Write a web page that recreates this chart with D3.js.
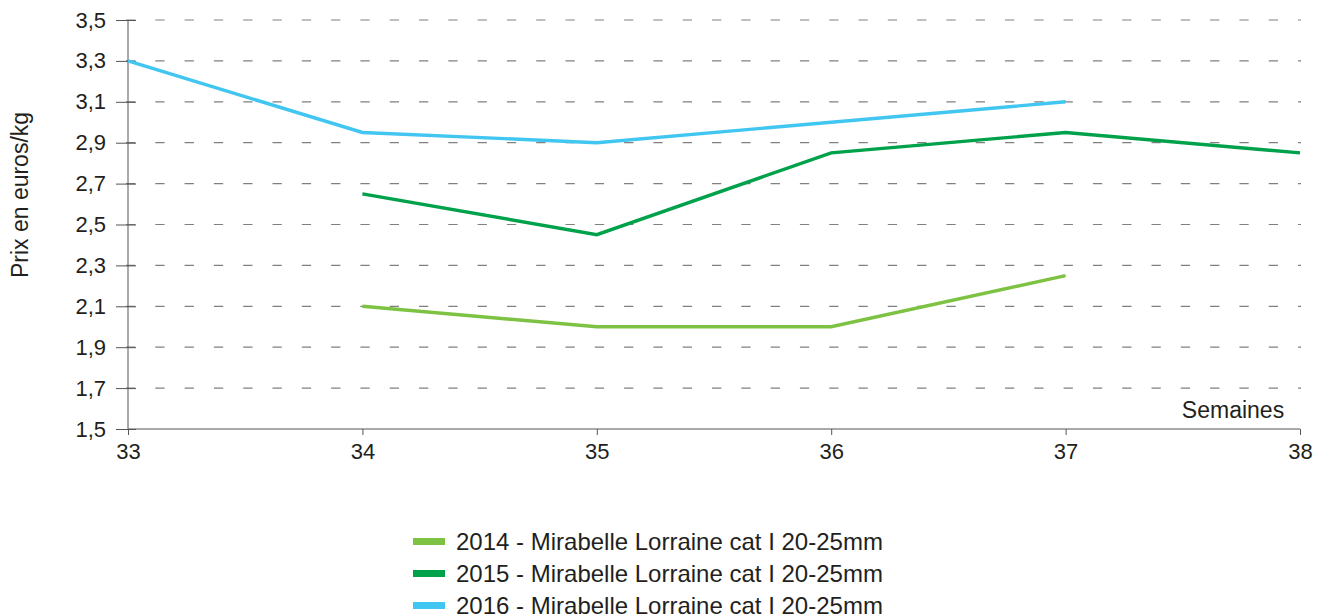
<!DOCTYPE html>
<html>
<head>
<meta charset="utf-8">
<script src="https://cdn.jsdelivr.net/npm/d3@7"></script>
<style>
  body { margin: 0; background: #fff; }
  svg { font-family: "Liberation Sans", Arial, sans-serif; }
</style>
</head>
<body>
<div id="chart"></div>
<script>
// weeks on the x axis
var weeks = [33, 34, 35, 36, 37, 38];
var yTicks = [1.5, 1.7, 1.9, 2.1, 2.3, 2.5, 2.7, 2.9, 3.1, 3.3, 3.5];

// prices, euros/kg
var weeks2014 = [34, 35, 36, 37];
var prices2014 = [2.1, 2.0, 2.0, 2.25];
var weeks2015 = [34, 35, 36, 37, 38];
var prices2015 = [2.65, 2.45, 2.85, 2.95, 2.85];
var weeks2016 = [33, 34, 35, 36, 37];
var prices2016 = [3.3, 2.95, 2.9, 3.0, 3.1];

var seriesNames = [
  "2014 - Mirabelle Lorraine cat I 20-25mm",
  "2015 - Mirabelle Lorraine cat I 20-25mm",
  "2016 - Mirabelle Lorraine cat I 20-25mm"
];
var seriesColors = ["#7dc242", "#00a14b", "#41c6f2"];

var series = [
  { name: seriesNames[0], color: seriesColors[0], pts: weeks2014.map((w, i) => ({ w: w, v: prices2014[i] })) },
  { name: seriesNames[1], color: seriesColors[1], pts: weeks2015.map((w, i) => ({ w: w, v: prices2015[i] })) },
  { name: seriesNames[2], color: seriesColors[2], pts: weeks2016.map((w, i) => ({ w: w, v: prices2016[i] })) }
];

var width = 1328, height = 616;
var plotLeft = 128, plotRight = 1300, plotTop = 20, plotBottom = 429;
var textColor = "#231f20", axisColor = "#555";

var svg = d3.select("#chart").append("svg")
  .attr("width", width)
  .attr("height", height);

var x = d3.scaleLinear().domain([33, 38]).range([plotLeft, plotRight]);
var y = d3.scaleLinear().domain([1.5, 3.5]).range([plotBottom, plotTop]);

// dashed grid lines
svg.append("g")
  .selectAll("line")
  .data(yTicks.filter(d => d > 1.5))
  .enter()
    .append("line")
      .attr("x1", plotLeft - 2)
      .attr("x2", plotRight + 1)
      .attr("y1", d => y(d))
      .attr("y2", d => y(d))
      .attr("stroke", "#808080")
      .attr("stroke-width", 1.2)
      .attr("stroke-dasharray", "9.3,20");

// y axis
var yAxis = svg.append("g")
  .attr("transform", "translate(" + plotLeft + ",0)")
  .call(d3.axisLeft(y).tickValues(yTicks).tickSize(12)
    .tickFormat(d => d3.format(".1f")(d).replace(".", ",")));
yAxis.select(".domain").attr("stroke", axisColor).attr("d", "M0," + plotTop + "V" + plotBottom);
yAxis.selectAll(".tick line").attr("stroke", axisColor).attr("x2", -12).attr("x1", 8);
yAxis.selectAll(".tick text")
  .attr("x", -22)
  .attr("font-size", 22)
  .attr("fill", textColor)
  .attr("font-family", "Liberation Sans, Arial, sans-serif");

// x axis
var xAxis = svg.append("g")
  .attr("transform", "translate(0," + plotBottom + ")")
  .call(d3.axisBottom(x).tickValues(weeks).tickSize(6).tickFormat(d3.format("d")));
xAxis.select(".domain").attr("stroke", axisColor).attr("d", "M" + plotLeft + ",0H" + plotRight);
xAxis.selectAll(".tick line").attr("stroke", axisColor);
xAxis.selectAll(".tick text")
  .attr("y", 14)
  .attr("font-size", 22)
  .attr("fill", textColor)
  .attr("font-family", "Liberation Sans, Arial, sans-serif");

// axis titles
svg.append("text")
  .attr("transform", "translate(28,195) rotate(-90)")
  .attr("text-anchor", "middle")
  .attr("font-size", 23)
  .attr("fill", textColor)
  .text("Prix en euros/kg");

svg.append("text")
  .attr("x", 1233)
  .attr("y", 418)
  .attr("text-anchor", "middle")
  .attr("font-size", 23)
  .attr("fill", textColor)
  .text("Semaines");

// lines
var line = d3.line().x(d => x(d.w)).y(d => y(d.v));
svg.append("g")
  .selectAll("path")
  .data(series)
  .enter()
    .append("path")
      .attr("d", d => line(d.pts))
      .attr("fill", "none")
      .attr("stroke", d => d.color)
      .attr("stroke-width", 3.4);

// legend
var legend = svg.append("g")
  .selectAll("g")
  .data(series)
  .enter()
    .append("g")
      .attr("transform", (d, i) => "translate(413," + (541 + i * 32) + ")");
legend.append("rect")
  .attr("x", 0)
  .attr("y", -3)
  .attr("width", 32)
  .attr("height", 7)
  .attr("fill", d => d.color);
legend.append("text")
  .attr("x", 43)
  .attr("y", 8.5)
  .attr("font-size", 24)
  .attr("fill", textColor)
  .text(d => d.name);
</script>
</body>
</html>
